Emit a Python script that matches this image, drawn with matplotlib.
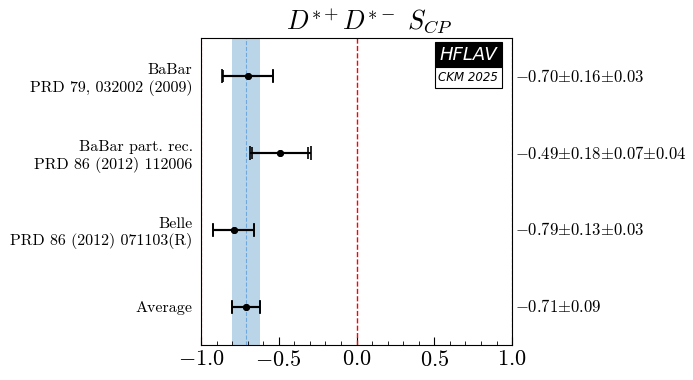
import matplotlib
matplotlib.use("Agg")
import matplotlib.pyplot as plt
import numpy as np
from matplotlib.ticker import MultipleLocator
from matplotlib.patches import Rectangle

plt.rcParams['font.family'] = 'serif'
plt.rcParams['font.serif'] = ['cmr10']
plt.rcParams['mathtext.fontset'] = 'cm'
plt.rcParams['axes.formatter.use_mathtext'] = True

labels = ["BaBar\nPRD 79, 032002 (2009)",
          "BaBar part. rec.\nPRD 86 (2012) 112006",
          "Belle\nPRD 86 (2012) 071103(R)",
          "Average"]
values = [-0.70, -0.49, -0.79, -0.71]
stat = [0.16, 0.18, 0.13, 0.09]
syst1 = [0.03, 0.07, 0.03, 0.0]
syst2 = [0.0, 0.04, 0.0, 0.0]
value_text = [r"$-0.70{\pm}0.16{\pm}0.03$",
              r"$-0.49{\pm}0.18{\pm}0.07{\pm}0.04$",
              r"$-0.79{\pm}0.13{\pm}0.03$",
              r"$-0.71{\pm}0.09$"]

fig = plt.figure(figsize=(6.93, 3.8), dpi=100)
ax = fig.add_axes([0.29, 0.092, 0.449, 0.808])

n = len(values)
ypos = np.arange(n)[::-1]
vals = np.array(values)
st = np.array(stat)
tot = np.sqrt(st**2 + np.array(syst1)**2 + np.array(syst2)**2)

avg, avg_err = values[-1], stat[-1]
ax.axvspan(avg - avg_err, avg + avg_err, color='#1f77b4', alpha=0.3, lw=0)
ax.axvline(avg, color='#6fa8dc', ls='--', lw=0.8)
ax.axvline(0.0, color='red', ls='--', lw=1)
ax.axvline(-1.0, color='red', ls='--', lw=0.8, zorder=1)
ax.axvline(1.0, color='red', ls='--', lw=0.8, zorder=1)

ax.errorbar(vals, ypos, xerr=tot, fmt='o', color='black', ms=4, capsize=5, elinewidth=1.5, capthick=1.2)
ax.errorbar(vals, ypos, xerr=st, fmt='o', color='black', ms=4, capsize=4, elinewidth=1.5, capthick=1.2)

ax.set_xlim(-1, 1)
ax.set_ylim(-0.5, n - 0.5)
ax.set_yticks(ypos)
ax.set_yticklabels(labels, fontsize=11.5, ha='right', multialignment='right')
ax.tick_params(axis='y', length=0, pad=6)
ax.xaxis.set_major_locator(MultipleLocator(0.5))
ax.xaxis.set_minor_locator(MultipleLocator(0.1))
ax.tick_params(axis='x', which='both', direction='in', labelsize=16)
ax.tick_params(axis='x', which='major', length=6)
ax.tick_params(axis='x', which='minor', length=3)

for y, t in zip(ypos, value_text):
    ax.text(1.01, y, t, transform=ax.get_yaxis_transform(), ha='left', va='center', fontsize=12)

ax.set_title(r"$D^{*+}D^{*-}\ S_{CP}$", fontsize=19, x=0.54)

# HFLAV logo
x0, x1 = 0.751, 0.968
ax.add_patch(Rectangle((x0, 0.905), x1 - x0, 0.083, transform=ax.transAxes,
                       fc='black', ec='black', lw=0.8, zorder=5))
ax.add_patch(Rectangle((x0, 0.838), x1 - x0, 0.067, transform=ax.transAxes,
                       fc='white', ec='black', lw=0.8, zorder=5))
ax.text((x0 + x1) / 2, 0.946, "HFLAV", transform=ax.transAxes, ha='center', va='center',
        fontsize=13, style='italic', color='white', family='DejaVu Sans', zorder=6)
ax.text((x0 + x1) / 2, 0.871, "CKM 2025", transform=ax.transAxes, ha='center', va='center',
        fontsize=8.5, style='italic', color='black', family='DejaVu Sans', zorder=6)

fig.savefig("out.png", dpi=100)
